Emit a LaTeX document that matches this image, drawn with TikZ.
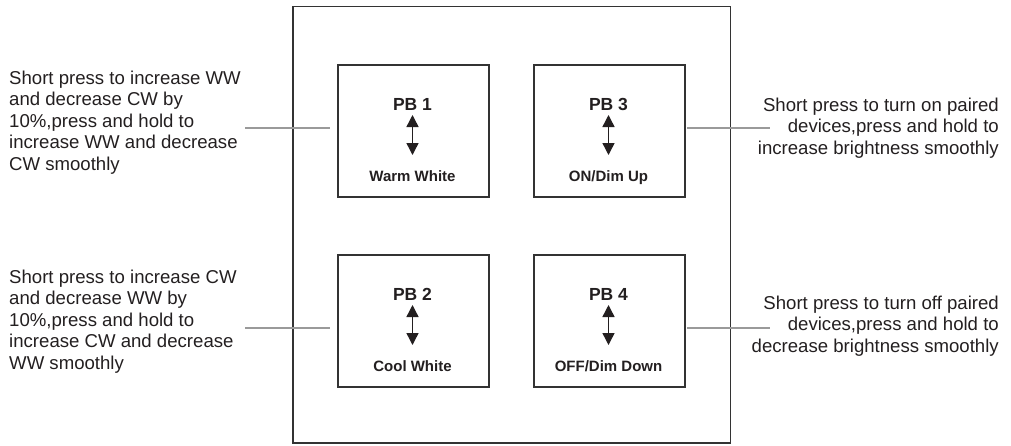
\documentclass[tikz,border=0pt]{standalone}
\usepackage{fontspec}
\setmainfont{Liberation Sans}
\usetikzlibrary{arrows.meta}
\definecolor{boxc}{HTML}{333333}
\definecolor{linec}{HTML}{9A9A9A}
\definecolor{txt}{HTML}{231F20}
\begin{document}
\begin{tikzpicture}[x=1pt,y=-1pt,
  frame/.style={draw=boxc, line width=1.6pt, inner sep=0pt, anchor=north west},
  btn/.style={draw=boxc, line width=1.6pt, minimum width=151pt, minimum height=132pt, inner sep=0pt, anchor=north west},
  pbl/.style={font=\bfseries\fontsize{17.5}{20}\selectfont, inner sep=0pt, anchor=base, text=txt},
  fnl/.style={font=\bfseries\fontsize{15}{17}\selectfont, inner sep=0pt, anchor=base, text=txt},
  desc/.style={font=\fontsize{18.6}{21.5}\selectfont, inner sep=0pt, text=txt},
  conn/.style={draw=linec, line width=1.5pt},
  dbl/.style={draw=txt, line width=1.4pt, {Triangle[width=12pt,length=12pt]}-{Triangle[width=12pt,length=12pt]}}
]
\useasboundingbox (0,0) rectangle (1011,445);
% outer plate
\node[frame, minimum width=437.5pt, minimum height=436.5pt] (plate) at (292,5.5) {};
% buttons
\node[btn] (b1) at (337,64) {};
\node[btn] (b3) at (533,64) {};
\node[btn] (b2) at (337,254) {};
\node[btn] (b4) at (533,254) {};
% labels
\node[pbl] (p1) at (412.5,110) {PB 1};
\node[pbl] (p3) at (608.5,110) {PB 3};
\node[pbl] (p2) at (412.5,300) {PB 2};
\node[pbl] (p4) at (608.5,300) {PB 4};
\node[fnl] (f1) at (412.5,181) {Warm White};
\node[fnl] (f3) at (608.5,181) {ON/Dim Up};
\node[fnl] (f2) at (412.5,371) {Cool White};
\node[fnl] (f4) at (608.5,371) {OFF/Dim Down};
% arrows
\coordinate (a1t) at (412.5,115); \coordinate (a1b) at (412.5,155);
\coordinate (a3t) at (608.5,115); \coordinate (a3b) at (608.5,155);
\coordinate (a2t) at (412.5,305); \coordinate (a2b) at (412.5,345);
\coordinate (a4t) at (608.5,305); \coordinate (a4b) at (608.5,345);
\draw[dbl] (a1t) -- (a1b);
\draw[dbl] (a3t) -- (a3b);
\draw[dbl] (a2t) -- (a2b);
\draw[dbl] (a4t) -- (a4b);
% descriptions
\node[desc, align=left, anchor=north west] (d1) at (9,70.4) {Short press to increase WW\\and decrease CW by\\10\%,press and hold to\\increase WW and decrease\\CW smoothly};
\node[desc, align=left, anchor=north west] (d2) at (9,269.4) {Short press to increase CW\\and decrease WW by\\10\%,press and hold to\\increase CW and decrease\\WW smoothly};
\node[desc, align=right, anchor=north east] (d3) at (999,97.4) {Short press to turn on paired\\devices,press and hold to\\increase brightness smoothly};
\node[desc, align=right, anchor=north east] (d4) at (999,295.4) {Short press to turn off paired\\devices,press and hold to\\decrease brightness smoothly};
% connectors
\coordinate (c1a) at (245,128); \coordinate (c1b) at (330,128);
\coordinate (c2a) at (245,328); \coordinate (c2b) at (330,328);
\coordinate (c3a) at (687,128); \coordinate (c3b) at (770,128);
\coordinate (c4a) at (687,328); \coordinate (c4b) at (770,328);
\draw[conn] (c1a) -- (c1b);
\draw[conn] (c2a) -- (c2b);
\draw[conn] (c3a) -- (c3b);
\draw[conn] (c4a) -- (c4b);
\end{tikzpicture}
\end{document}
